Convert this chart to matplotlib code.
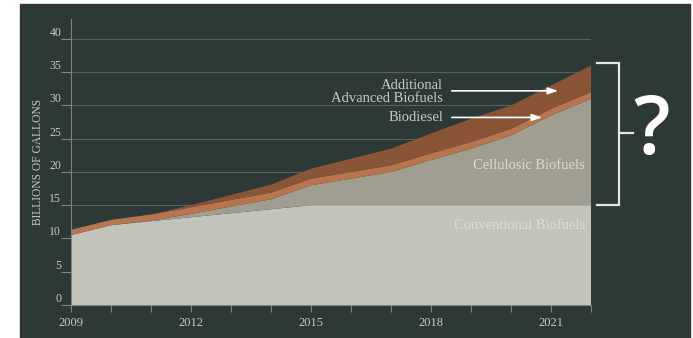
import matplotlib.pyplot as plt
from matplotlib.patches import Rectangle

years = list(range(2009, 2023))
conventional = [10.5, 12.0, 12.6, 13.2, 13.8, 14.4, 15.0, 15.0, 15.0, 15.0, 15.0, 15.0, 15.0, 15.0]
cellulosic = [0.0, 0.0, 0.1, 0.5, 1.0, 1.5, 3.0, 4.0, 5.0, 6.8, 8.5, 10.5, 13.5, 16.0]
biodiesel = [0.8, 0.8, 0.9, 1.0, 1.0, 1.0, 1.0, 1.0, 1.0, 1.0, 1.0, 1.0, 1.0, 1.0]
additional = [0.0, 0.0, 0.0, 0.3, 0.75, 1.2, 1.5, 2.0, 2.5, 3.0, 3.5, 3.5, 3.5, 4.0]
year_labels = [2009, 2012, 2015, 2018, 2021]

BG = "#2d3937"
TXT = "#c9cac3"
GRID = "#56625f"
SERIF = ["Liberation Serif", "DejaVu Serif"]

fig = plt.figure(figsize=(6.93, 3.38), dpi=100, facecolor="white")
fig.patches.append(Rectangle((20 / 693, 0), 670 / 693, 334 / 338,
                             transform=fig.transFigure, color=BG, zorder=-10))

ax = fig.add_axes([71 / 693, 1 - 305 / 338, 520 / 693, 286 / 338])
ax.patch.set_alpha(0)

ax.stackplot(years, conventional, cellulosic, biodiesel, additional,
             colors=["#c2c4bc", "#a09e91", "#b8744f", "#8a5537"],
             linewidth=0, zorder=2)

ax.set_xlim(2009, 2022)
ax.set_ylim(0, 43)
ax.set_yticks(range(0, 41, 5))
for y in range(5, 41, 5):
    ax.axhline(y, color=GRID, lw=0.8, zorder=1)

for s in ["top", "right"]:
    ax.spines[s].set_visible(False)
for s in ["left", "bottom"]:
    ax.spines[s].set_color("#7d8683")
    ax.spines[s].set_linewidth(0.8)

ax.set_xticks(years, minor=True)
ax.set_xticks(year_labels)
ax.set_xticklabels([str(y) for y in year_labels])
ax.tick_params(axis="x", which="both", colors="#7d8683", length=5, width=0.8,
               labelcolor=TXT, labelsize=9, pad=4)
ax.tick_params(axis="y", colors="#7d8683", length=7, width=0.8,
               labelcolor=TXT, labelsize=8.5, pad=0)
for lab in ax.get_xticklabels() + ax.get_yticklabels():
    lab.set_family(SERIF)
for lab in ax.get_yticklabels():
    lab.set_verticalalignment("bottom")

ax.set_ylabel("BILLIONS OF GALLONS", color=TXT, fontsize=8.3, family=SERIF, labelpad=4)

arrow = dict(arrowstyle="-|>,head_length=0.6,head_width=0.2", color="white", lw=1.2)
ax.text(2018.3, 32.0, "Additional\nAdvanced Biofuels", color=TXT, fontsize=10.5,
        family=SERIF, ha="right", va="center", linespacing=1.0)
ax.annotate("", xy=(2021.25, 32.2), xytext=(2018.45, 32.2), arrowprops=arrow, zorder=5)
ax.text(2018.3, 28.2, "Biodiesel", color=TXT, fontsize=10.5,
        family=SERIF, ha="right", va="center")
ax.annotate("", xy=(2020.85, 28.2), xytext=(2018.45, 28.2), arrowprops=arrow, zorder=5)
ax.text(2021.85, 21.0, "Cellulosic Biofuels", color="#dcdcd4", fontsize=10.5,
        family=SERIF, ha="right", va="center", zorder=5)
ax.text(2021.85, 12.0, "Conventional Biofuels", color="#dcdcd6", fontsize=10.5,
        family=SERIF, ha="right", va="center", zorder=5)

# bracket
bx0, bx1, bx2 = 2022.15, 2022.7, 2023.05
ax.plot([bx0, bx1, bx1, bx0], [36.4, 36.4, 15.0, 15.0], color="#e6e6e6",
        lw=1.6, clip_on=False, solid_joinstyle="miter")
ax.plot([bx1, bx2], [25.9, 25.9], color="#e6e6e6", lw=1.6, clip_on=False)
ax.text(2023.05, 25.9, "?", color="white", fontsize=58, family="Open Sans",
        fontweight="semibold", ha="left", va="center", clip_on=False)

fig.savefig("out.png", dpi=100, facecolor="white")
